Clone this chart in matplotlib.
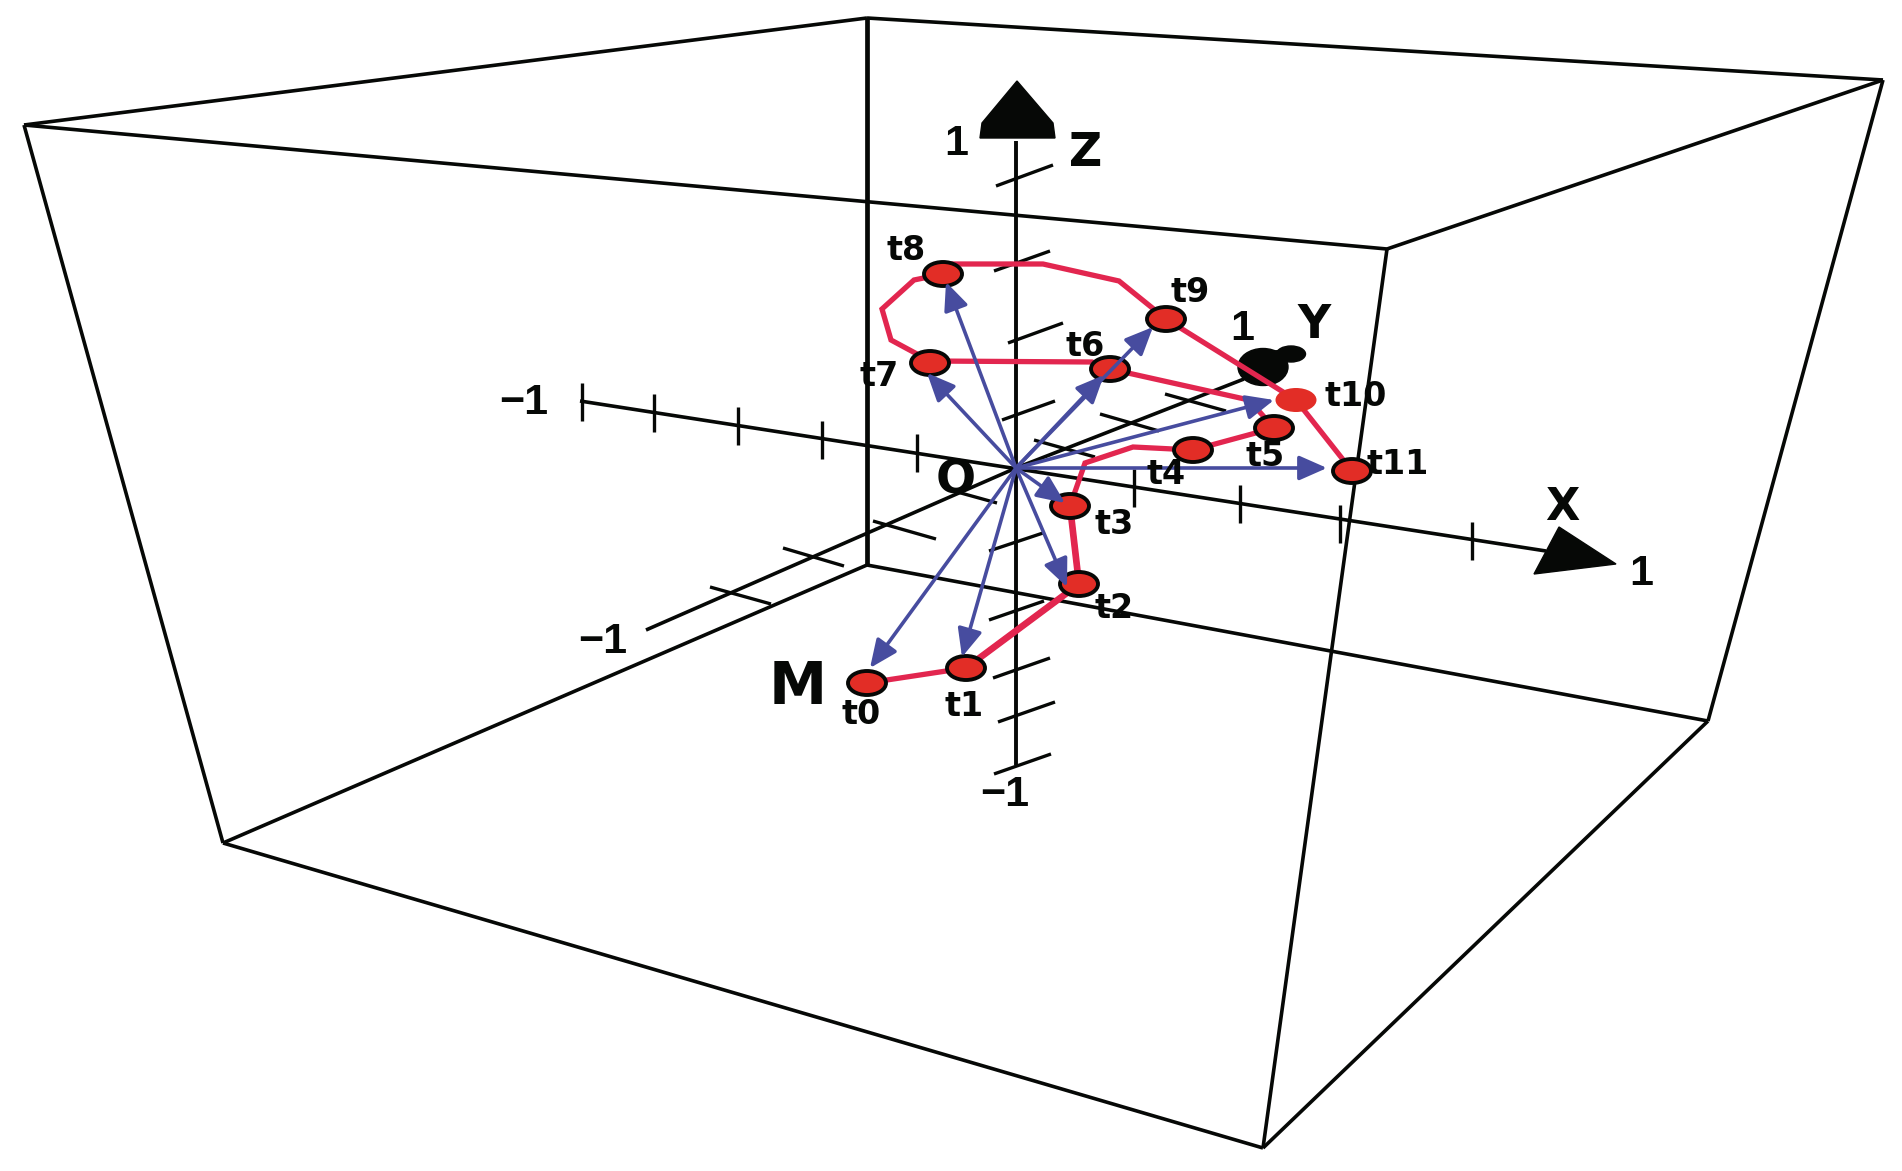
#!/usr/bin/env python3
# Trajectory of a point M around origin O, drawn inside a perspective box.

import matplotlib
matplotlib.use("Agg")
import matplotlib.pyplot as plt
from matplotlib.patches import Ellipse, Polygon

W, H = 1902, 1171
BLACK = "#060806"
RED_LINE = "#E2264F"
RED_DOT = "#E22D26"
BLUE = "#474C9F"

# box corners and edges
corners = {"A": (24, 125), "B": (867, 18), "C": (1883, 80), "D": (1387, 249),
           "E": (223, 843), "F": (1263, 1148), "G": (1708, 721), "H": (867, 565)}
edges = ["AB", "BC", "CD", "DA", "AE", "EF", "FG", "GC", "DF", "HE", "HG"]
back_edge = "BH"

origin = (1016, 468)

# axes
x_axis = [(580, 401), (1546, 551)]
y_axis = [(646, 630), (1016, 468), (1244, 379)]
z_axis = [(1016, 141), (1016, 765)]

x_tick_pos = [(582, 402), (654, 413), (738, 426), (822, 440), (917, 453),
              (1134, 488), (1240, 504), (1340, 524), (1472, 541)]
y_ticks = [((710, 587), (771, 604)), ((783, 548), (844, 566)),
           ((873, 521), (936, 539)), ((950, 490), (997, 503)),
           ((1034, 440), (1095, 457)), ((1100, 414), (1159, 431)),
           ((1165, 394), (1226, 411))]
z_ticks = [((996, 186), (1053, 165)), ((994, 271), (1050, 251)),
           ((1008, 343), (1063, 323)), ((1002, 420), (1055, 401)),
           ((989, 551), (1043, 533)), ((989, 620), (1044, 601)),
           ((993, 678), (1050, 658)), ((998, 722), (1055, 702)),
           ((994, 774), (1051, 754))]

z_head = [(1017, 81), (1053, 123), (1055, 138), (980, 138), (982, 123)]
x_head = [(1559, 527), (1616, 564), (1534, 574)]

# trajectory, times t0..t11
point_names = ["t0", "t1", "t2", "t3", "t4", "t5", "t6", "t7", "t8", "t9", "t10", "t11"]
point_xy = [(867, 683), (966, 668), (1079, 584), (1070, 506), (1193, 450), (1274, 428),
            (1110, 369), (930, 363), (943, 274), (1166, 319), (1296, 400), (1352, 471)]
path_xy = [(867, 683), (966, 668), (1079, 584), (1070, 506), (1085, 463), (1133, 447),
           (1193, 450), (1274, 428), (1249, 400), (1110, 369), (1092, 362), (930, 361), (891, 340),
           (882, 309), (914, 280), (943, 274), (952, 264), (1043, 264), (1119, 281),
           (1166, 319), (1296, 400), (1352, 471)]
thick_path_xy = [(966, 668), (1079, 584), (1070, 506)]

# vector tips, from O
arrow_tips = [(870, 668), (962, 657), (1067, 587), (1065, 503), (1104, 375), (927, 373),
              (946, 282), (1153, 327), (1274, 400), (1327, 468)]

label_xy = [(861, 715), (964, 707), (1114, 609), (1114, 525), (1166, 475), (1265, 456),
            (1085, 347), (879, 376), (906, 251), (1190, 293), (1356, 396), (1398, 464)]
big_labels = [("M", 798, 687, 42), ("O", 956, 481, 34), ("X", 1562, 507, 32),
              ("Y", 1314, 325, 33), ("Z", 1086, 154, 33)]
num_labels = [("1", 956, 144), ("1", 1242, 329), ("1", 1641, 574),
              ("\u22121", 524, 403), ("\u22121", 603, 642), ("\u22121", 1005, 795)]


def line(pts, lw, color=BLACK, z=2):
    ax.plot([p[0] for p in pts], [p[1] for p in pts], color=color, lw=lw, zorder=z,
            solid_capstyle="butt", solid_joinstyle="miter")


fig = plt.figure(figsize=(W / 100, H / 100), dpi=100)
ax = fig.add_axes([0, 0, 1, 1])
ax.set_xlim(0, W)
ax.set_ylim(H, 0)
ax.axis("off")

for e in edges:
    line([corners[e[0]], corners[e[1]]], 2.6)
line([corners[back_edge[0]], corners[back_edge[1]]], 3.4)

line(x_axis, 2.6)
line(y_axis, 2.6)
line(z_axis, 2.8)
for px, py in x_tick_pos:
    line([(px, py - 19), (px, py + 19)], 2.4)
for a, b in y_ticks + z_ticks:
    line([a, b], 2.4)

ax.add_patch(Polygon(z_head, closed=True, color=BLACK, zorder=3))
ax.add_patch(Polygon(x_head, closed=True, color=BLACK, zorder=3))

# Y axis end is a blob, not an arrow
ax.add_patch(Ellipse((1263, 367), 50, 37, color=BLACK, zorder=3))
ax.add_patch(Ellipse((1291, 354), 29, 16, color=BLACK, zorder=3))
ax.add_patch(Polygon([(1268, 352), (1282, 350), (1284, 362), (1274, 362)], closed=True,
                     color=BLACK, zorder=3))

line(path_xy, 3.8, RED_LINE, 4)
line(thick_path_xy, 4.8, RED_LINE, 4)

for name, (px, py) in zip(point_names, point_xy):
    if name == "t10":
        ax.add_patch(Ellipse((px, py), 41, 24, fc=RED_DOT, ec="none", zorder=5))
    else:
        ax.add_patch(Ellipse((px, py), 38, 24, fc=RED_DOT, ec=BLACK, lw=2.8, zorder=5))

for tip in arrow_tips:
    ax.annotate("", xy=tip, xytext=origin, zorder=6,
                arrowprops=dict(arrowstyle="-|>,head_length=1.7,head_width=0.75",
                                mutation_scale=10, lw=2.6, color=BLUE,
                                shrinkA=0, shrinkB=0))

for name, (px, py) in zip(point_names, label_xy):
    ax.text(px, py, name, fontsize=24, fontweight="bold", family="DejaVu Sans",
            ha="center", va="center", color=BLACK, zorder=7)
for s, px, py, size in big_labels:
    ax.text(px, py, s, fontsize=size, fontweight="bold", family="DejaVu Sans",
            ha="center", va="center", color=BLACK, zorder=7)
for s, px, py in num_labels:
    ax.text(px, py, s, fontsize=31, fontweight="bold", family="Liberation Sans",
            ha="center", va="center", color=BLACK, zorder=7)

fig.savefig("out.png", dpi=100, facecolor="white")
